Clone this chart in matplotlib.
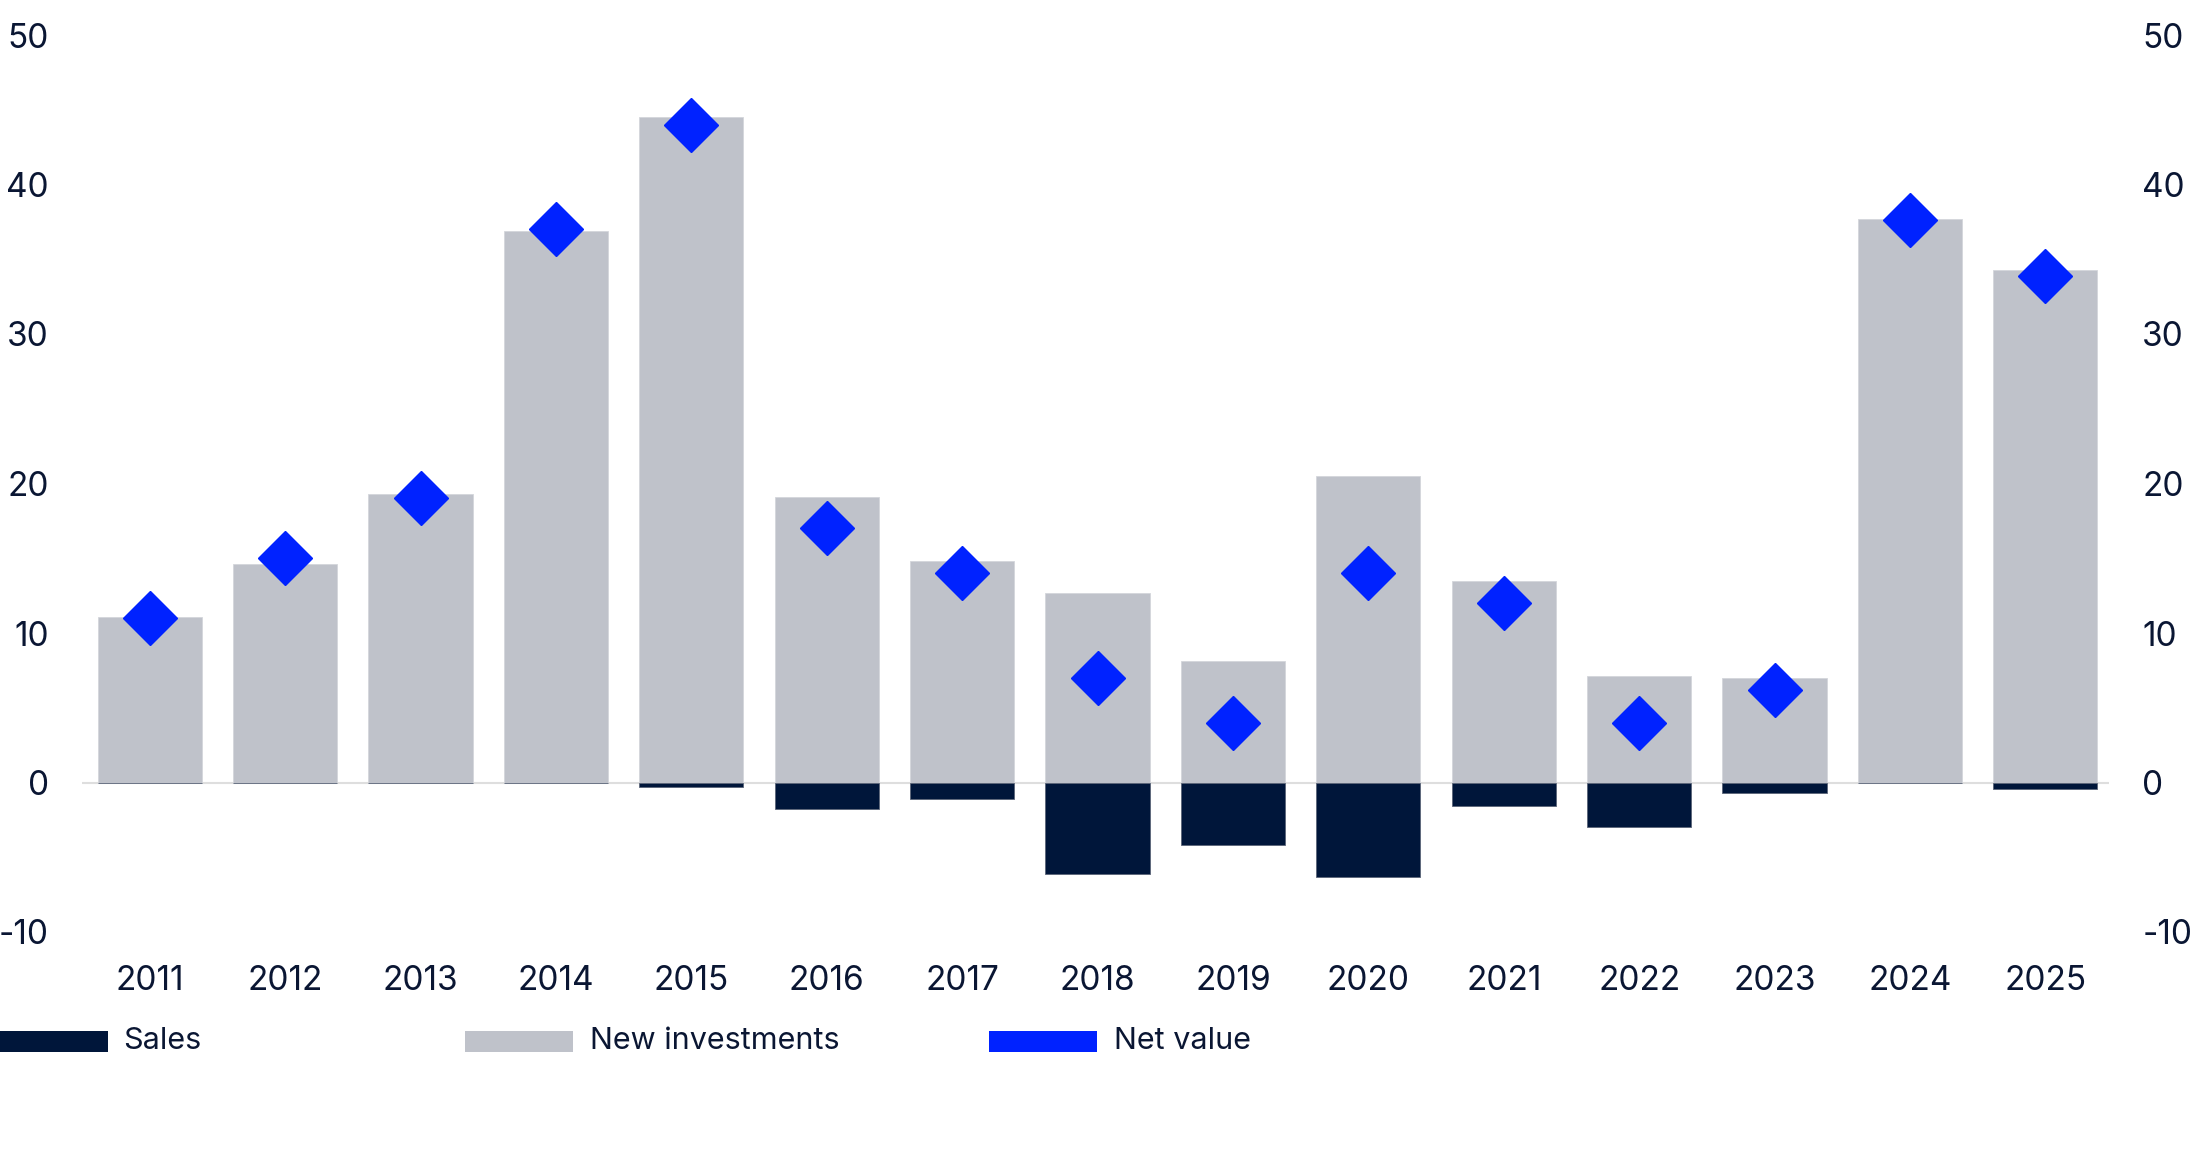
#!/usr/bin/env python3
# -*- coding: utf-8 -*-
"""
Bar chart of sales, new investments and net value per year, 2011-2025.
"""
import numpy as np
import matplotlib
matplotlib.use("Agg")
import matplotlib.pyplot as plt
from matplotlib.patches import Rectangle

years = ["2011", "2012", "2013", "2014", "2015", "2016", "2017", "2018",
         "2019", "2020", "2021", "2022", "2023", "2024", "2025"]
new_investments = [11.1, 14.6, 19.3, 36.9, 44.5, 19.1, 14.8, 12.7,
                   8.1, 20.5, 13.5, 7.1, 7.0, 37.7, 34.3]
sales = [0.0, 0.0, 0.0, 0.0, -0.3, -1.8, -1.1, -6.1,
         -4.2, -6.3, -1.6, -3.0, -0.7, -0.05, -0.45]
net_value = [11.0, 15.0, 19.0, 37.0, 44.0, 17.0, 14.0, 7.0,
             4.0, 14.0, 12.0, 4.0, 6.2, 37.6, 33.9]
y_ticks = [-10, 0, 10, 20, 30, 40, 50]


def main():
    W, H = 2197, 1153
    DPI = 100
    FontSize = 24
    LegSize = 22
    TextCol = "#0a1633"
    SalesCol = "#00163a"
    GrayCol = "#bfc2ca"
    BlueCol = "#0022ff"

    plt.rcParams['font.family'] = ['Inter', 'DejaVu Sans']

    fig = plt.figure(figsize=(W / DPI, H / DPI), dpi=DPI)
    ax = fig.add_axes([82 / W, 1 - 932 / H, (2109 - 82) / W, (932 - 35) / H])

    xx = np.arange(len(years))
    ax.axhline(0, color="#dedede", lw=1.5, zorder=0.5)
    ax.bar(xx, new_investments, width=0.77, color=GrayCol,
           edgecolor="#d4d6db", lw=0.6, zorder=1)
    ax.bar(xx, sales, width=0.77, color=SalesCol,
           edgecolor="#5a6478", lw=0.6, zorder=1)
    ax.plot(xx, net_value, ls="none", marker="D", ms=27, color=BlueCol,
            mec=BlueCol, zorder=3)

    ax.set_xlim(-0.5, len(years) - 0.53)
    ax.set_ylim(-10, 50)
    ax.set_yticks(y_ticks)
    ax.set_yticklabels([str(t) for t in y_ticks])
    ax.set_xticks(xx)
    ax.set_xticklabels(years)
    ax.tick_params(axis="y", length=0, pad=24, labelsize=FontSize,
                   labelcolor=TextCol, left=False, right=False,
                   labelleft=True, labelright=True)
    ax.tick_params(axis="x", length=0, pad=24, labelsize=FontSize,
                   labelcolor=TextCol)
    for sp in ax.spines.values():
        sp.set_visible(False)

    # legend row under the years
    leg = [("Sales", SalesCol, 0, 123),
           ("New investments", GrayCol, 465, 590),
           ("Net value", BlueCol, 989, 1114)]
    yc = 1 - 1041 / H
    for name, col, px, tx in leg:
        fig.patches.append(Rectangle((px / W, yc - 10.5 / H), 108 / W,
                                     21 / H, transform=fig.transFigure,
                                     color=col, lw=0))
        fig.text(tx / W, yc, name, fontsize=LegSize, color=TextCol,
                 va="center", ha="left")

    fig.savefig("out.png", dpi=DPI)


if __name__ == "__main__":
    main()
